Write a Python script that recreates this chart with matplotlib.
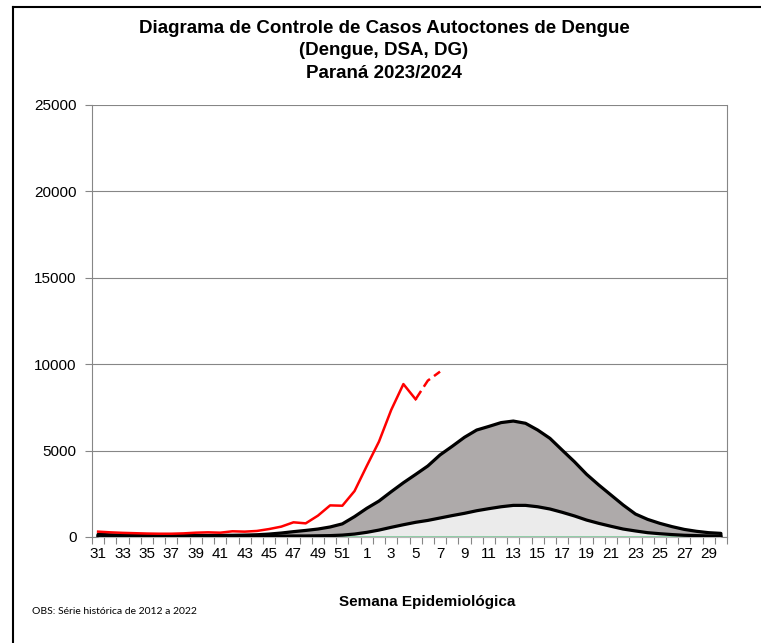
import matplotlib
matplotlib.use("Agg")
import matplotlib.pyplot as plt
from matplotlib.lines import Line2D
import numpy as np

plt.rcParams["font.family"] = ["Liberation Sans", "DejaVu Sans"]

weeks = list(range(31, 53)) + list(range(1, 31))

# limite superior (area cinza)
upper = [150, 130, 110, 100, 100, 90, 90, 90, 90, 90, 100, 100, 110, 130, 170, 230,
         310, 380, 460, 580, 760, 1180,
         1660, 2080, 2620, 3140, 3620, 4110, 4750, 5250, 5770, 6190, 6400, 6620,
         6710, 6580, 6190, 5710, 5030, 4360, 3630, 3010, 2430, 1850, 1330, 1020,
         790, 600, 440, 330, 250, 210]

# media (area cinza clara)
lower = [100, 80, 60, 50, 50, 40, 40, 40, 40, 40, 40, 40, 40, 40, 50, 50,
         60, 60, 70, 80, 110, 170,
         270, 400, 560, 710, 850, 960, 1100, 1240, 1370, 1520, 1640, 1750,
         1830, 1830, 1750, 1620, 1430, 1220, 980, 790, 620, 460, 350, 250,
         190, 140, 100, 80, 60, 50]

minimum = [0] * 52

# casos 2023/2024 (semana 31 ate semana 7)
current = [310, 270, 240, 220, 200, 190, 190, 210, 250, 270, 250, 330, 310, 350,
           460, 600, 850, 790, 1235, 1830, 1810, 2660,
           4110, 5520, 7350, 8850, 7970, 9050, 9570]
last_closed = 26  # semana 5, depois disso tracejado

fig = plt.figure(figsize=(7.61, 6.43), dpi=100)
ax = fig.add_axes([92 / 761, 106 / 643, 635 / 761, 432 / 643])

x = np.arange(len(weeks))
ax.fill_between(x, 0, upper, color="#aeaaaa", lw=0, zorder=2)
ax.fill_between(x, 0, lower, color="#ebebeb", lw=0, zorder=3)
ax.plot(x, minimum, color="#7fc89a", lw=1.2, zorder=4)

xe = np.concatenate([[x[0]], x, [x[-1]]])
ax.plot(xe, np.concatenate([[0], upper, [0]]), color="black", lw=2.3,
        solid_joinstyle="round", zorder=5)
ax.plot(xe, np.concatenate([[0], lower, [0]]), color="black", lw=2.3,
        solid_joinstyle="round", zorder=5)

xc = np.arange(len(current))
ax.plot(xc[:last_closed + 1], current[:last_closed + 1], color="#ff0000", lw=1.8, zorder=6)
ax.plot(xc[last_closed:], current[last_closed:], color="#ff0000", lw=1.8,
        ls=(0, (4, 2)), zorder=6)

ax.set_xlim(-0.5, len(weeks) - 0.5)
ax.set_ylim(0, 25000)
ax.set_yticks(range(0, 25001, 5000))
ax.set_yticklabels([str(v) for v in range(0, 25001, 5000)], fontsize=11)
ax.set_xticks(x[::2])
ax.set_xticklabels([str(w) for w in weeks[::2]], fontsize=11)
ax.set_xticks(np.arange(-0.5, len(weeks)), minor=True)
ax.tick_params(axis="x", which="major", length=0, pad=7)
ax.tick_params(axis="x", which="minor", length=5, color="#868686", width=0.8)
ax.tick_params(axis="y", length=5, color="#868686", width=0.8, pad=6)

ax.grid(axis="y", color="#868686", lw=0.8, zorder=1)
for s in ax.spines.values():
    s.set_color("#868686")
    s.set_linewidth(0.8)
ax.spines["top"].set_visible(False)

fig.text(384 / 761, 1 - 20 / 643, "Diagrama de Controle de Casos Autoctones de Dengue\n(Dengue, DSA, DG)\nParaná 2023/2024",
         ha="center", va="top", fontsize=13.5, fontweight="bold", linespacing=1.42)
fig.text(427 / 761, 1 - 602 / 643, "Semana Epidemiológica", ha="center", va="center",
         fontsize=11, fontweight="bold")
fig.text(32 / 761, 1 - 612 / 643, "OBS: Série histórica de 2012 a 2022", ha="left", va="center",
         fontsize=7.5, family=["Lato", "DejaVu Sans"])

# moldura esquerda e superior
fig.add_artist(Line2D([13 / 761, 13 / 761], [0, 1 - 7 / 643], color="black", lw=1.5))
fig.add_artist(Line2D([13 / 761, 1], [1 - 7 / 643, 1 - 7 / 643], color="black", lw=1.5))

fig.savefig("out.png", dpi=100)
